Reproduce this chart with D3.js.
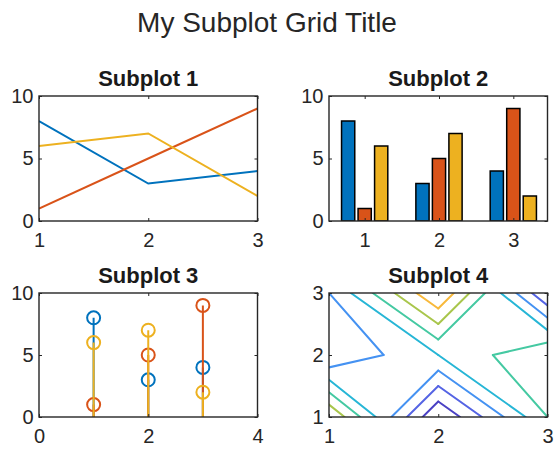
<!DOCTYPE html>
<html>
<head>
<meta charset="utf-8">
<script src="https://cdn.jsdelivr.net/npm/d3@7"></script>
<style>
body { margin: 0; background: #fff; }
svg { display: block; font-family: "Liberation Sans", Arial, Helvetica, sans-serif; }
</style>
</head>
<body>
<div id="viz"></div>
<script>
var width = 556, height = 449;

// magic(3), one array per column (series)
var xValues = [1, 2, 3];
var series1 = [8, 3, 4];
var series2 = [1, 5, 9];
var series3 = [6, 7, 2];
var allSeries = [series1, series2, series3];

// same matrix by rows for the contour (row i sits at y = i+1)
var zRows = [[8, 1, 6], [3, 5, 7], [4, 9, 2]];
var contourLevels = [2, 3, 4, 5, 6, 7, 8];

var valueTicks = [0, 5, 10];
var oneToThree = [1, 2, 3];
var stemTicks = [0, 2, 4];

var mainTitle = "My Subplot Grid Title";
var subTitles = ["Subplot 1", "Subplot 2", "Subplot 3", "Subplot 4"];

var seriesColors = ["#0072bd", "#d95319", "#edb120"];
var levelColors = ["#4b42c4", "#5564e4", "#4592f2", "#27b6d6", "#45c9a2", "#a9c64c", "#f8b93c"];
var axisColor = "#262626";

var tiles = [
	{left: 39, top: 96, w: 218.5, h: 125},
	{left: 329, top: 96, w: 218.5, h: 125},
	{left: 39, top: 293, w: 218.5, h: 124},
	{left: 329, top: 293, w: 218.5, h: 124}
];

var svg = d3.select("#viz").append("svg")
	.attr("width", width)
	.attr("height", height);

svg.append("text")
	.attr("x", 267)
	.attr("y", 32)
	.attr("text-anchor", "middle")
	.style("font-size", "28px")
	.style("fill", axisColor)
	.text(mainTitle);

var makeAxes = function(i, xDomain, yDomain, xTicks, yTicks) {
	var t = tiles[i];
	var g = svg.append("g")
		.attr("transform", "translate(" + t.left + "," + t.top + ")");
	var x = d3.scaleLinear().domain(xDomain).range([0, t.w]);
	var y = d3.scaleLinear().domain(yDomain).range([t.h, 0]);

	g.append("clipPath")
		.attr("id", "clip" + i)
	.append("rect")
		.attr("width", t.w)
		.attr("height", t.h);

	var plot = g.append("g").attr("clip-path", "url(#clip" + i + ")");
	return {i: i, g: g, plot: plot, x: x, y: y, t: t, xTicks: xTicks, yTicks: yTicks};
}

// box, ticks and labels go on top of the data
var finishAxes = function(ax) {
	var g = ax.g, t = ax.t;
	var fmt = d3.format("d");

	var styleAxis = function(sel) {
		sel.select(".domain").remove();
		sel.selectAll(".tick line").attr("stroke", axisColor).attr("stroke-width", 1);
		sel.selectAll(".tick text")
			.attr("fill", axisColor)
			.style("font-size", "20px")
			.style("font-family", "'Liberation Sans', Arial, Helvetica, sans-serif");
	}

	g.append("g")
		.attr("transform", "translate(0," + t.h + ")")
		.call(d3.axisBottom(ax.x).tickValues(ax.xTicks).tickSize(-3).tickPadding(11.5).tickFormat(fmt))
		.call(styleAxis);
	g.append("g")
		.call(d3.axisTop(ax.x).tickValues(ax.xTicks).tickSize(-3).tickFormat(""))
		.call(styleAxis);
	g.append("g")
		.call(d3.axisLeft(ax.y).tickValues(ax.yTicks).tickSize(-3).tickPadding(5.5).tickFormat(fmt))
		.call(styleAxis);
	g.append("g")
		.attr("transform", "translate(" + t.w + ",0)")
		.call(d3.axisRight(ax.y).tickValues(ax.yTicks).tickSize(-3).tickFormat(""))
		.call(styleAxis);

	g.append("rect")
		.attr("width", t.w)
		.attr("height", t.h)
		.attr("fill", "none")
		.attr("stroke", axisColor)
		.attr("stroke-width", 1.4);

	g.append("text")
		.attr("x", t.w / 2)
		.attr("y", -10)
		.attr("text-anchor", "middle")
		.style("font-size", "22px")
		.style("font-weight", "bold")
		.style("fill", "#1a1a1a")
		.text(subTitles[ax.i]);
}

// ---- Subplot 1: lines
var ax1 = makeAxes(0, [1, 3], [0, 10], oneToThree, valueTicks);
var line1 = d3.line()
	.x(function(d, i) { return ax1.x(xValues[i]); })
	.y(function(d) { return ax1.y(d); });

ax1.plot.selectAll(".series")
		.data(allSeries)
	.enter().append("path")
		.attr("class", "series")
		.attr("d", line1)
		.attr("fill", "none")
		.attr("stroke", function(d, i) { return seriesColors[i]; })
		.attr("stroke-width", 2);
finishAxes(ax1);

// ---- Subplot 2: grouped bars
var ax2 = makeAxes(1, [0.52, 3.46], [0, 10], oneToThree, valueTicks);
var nSeries = allSeries.length;
var groupWidth = Math.min(0.8, nSeries / (nSeries + 1.5));
var barSpacing = groupWidth / nSeries;
var barWidth = 0.8 * barSpacing;

var barRows = [];
allSeries.forEach(function(s, si) {
	s.forEach(function(v, j) {
		barRows.push({s: si, x: xValues[j], v: v});
	});
});

ax2.plot.selectAll(".bar")
		.data(barRows)
	.enter().append("rect")
		.attr("class", "bar")
		.attr("x", function(d) {
			return ax2.x(d.x + (d.s - (nSeries - 1) / 2) * barSpacing - barWidth / 2);
		})
		.attr("width", ax2.x(barWidth) - ax2.x(0))
		.attr("y", function(d) { return ax2.y(d.v); })
		.attr("height", function(d) { return ax2.y(0) - ax2.y(d.v); })
		.attr("fill", function(d) { return seriesColors[d.s]; })
		.attr("stroke", "#000")
		.attr("stroke-width", 1.5);
finishAxes(ax2);

// ---- Subplot 3: stems
var ax3 = makeAxes(2, [0, 4], [0, 10], stemTicks, valueTicks);
allSeries.forEach(function(s, si) {
	var sg = ax3.plot.append("g");
	sg.selectAll("line")
			.data(s)
		.enter().append("line")
			.attr("x1", function(d, j) { return ax3.x(xValues[j]); })
			.attr("x2", function(d, j) { return ax3.x(xValues[j]); })
			.attr("y1", ax3.y(0))
			.attr("y2", function(d) { return ax3.y(d); })
			.attr("stroke", seriesColors[si])
			.attr("stroke-width", 2);
	sg.selectAll("circle")
			.data(s)
		.enter().append("circle")
			.attr("cx", function(d, j) { return ax3.x(xValues[j]); })
			.attr("cy", function(d) { return ax3.y(d); })
			.attr("r", 6.5)
			.attr("fill", "none")
			.attr("stroke", seriesColors[si])
			.attr("stroke-width", 2);
});
finishAxes(ax3);

// ---- Subplot 4: contour lines (marching squares on the 3x3 grid)
var ax4 = makeAxes(3, [1, 3], [1, 3], oneToThree, oneToThree);

var contourSegments = function(z, level) {
	var segs = [];
	for (var r = 0; r < z.length - 1; r++) {
		for (var c = 0; c < z[0].length - 1; c++) {
			// corners: BL, BR, TR, TL
			var v = [z[r][c], z[r][c + 1], z[r + 1][c + 1], z[r + 1][c]];
			var p = [[c + 1, r + 1], [c + 2, r + 1], [c + 2, r + 2], [c + 1, r + 2]];
			var pts = [];
			for (var e = 0; e < 4; e++) {
				var a = e, b = (e + 1) % 4;
				if ((v[a] >= level) !== (v[b] >= level)) {
					var f = (level - v[a]) / (v[b] - v[a]);
					pts[e] = [p[a][0] + f * (p[b][0] - p[a][0]), p[a][1] + f * (p[b][1] - p[a][1])];
				}
			}
			var found = pts.filter(function(d) { return d; });
			if (found.length === 2) {
				segs.push(found);
			} else if (found.length === 4) {
				var centerHigh = d3.mean(v) >= level;
				for (var k = 0; k < 4; k++) {
					if ((v[k] >= level) !== centerHigh) segs.push([pts[(k + 3) % 4], pts[k]]);
				}
			}
		}
	}
	return segs.filter(function(s) {
		return s[0][0] !== s[1][0] || s[0][1] !== s[1][1];
	});
}

var segLine = d3.line()
	.x(function(d) { return ax4.x(d[0]); })
	.y(function(d) { return ax4.y(d[1]); });

contourLevels.forEach(function(level, li) {
	ax4.plot.selectAll(".lvl" + li)
			.data(contourSegments(zRows, level))
		.enter().append("path")
			.attr("class", "lvl" + li)
			.attr("d", segLine)
			.attr("fill", "none")
			.attr("stroke", levelColors[li])
			.attr("stroke-width", 2)
			.attr("stroke-linecap", "round");
});
finishAxes(ax4);
</script>
</body>
</html>
